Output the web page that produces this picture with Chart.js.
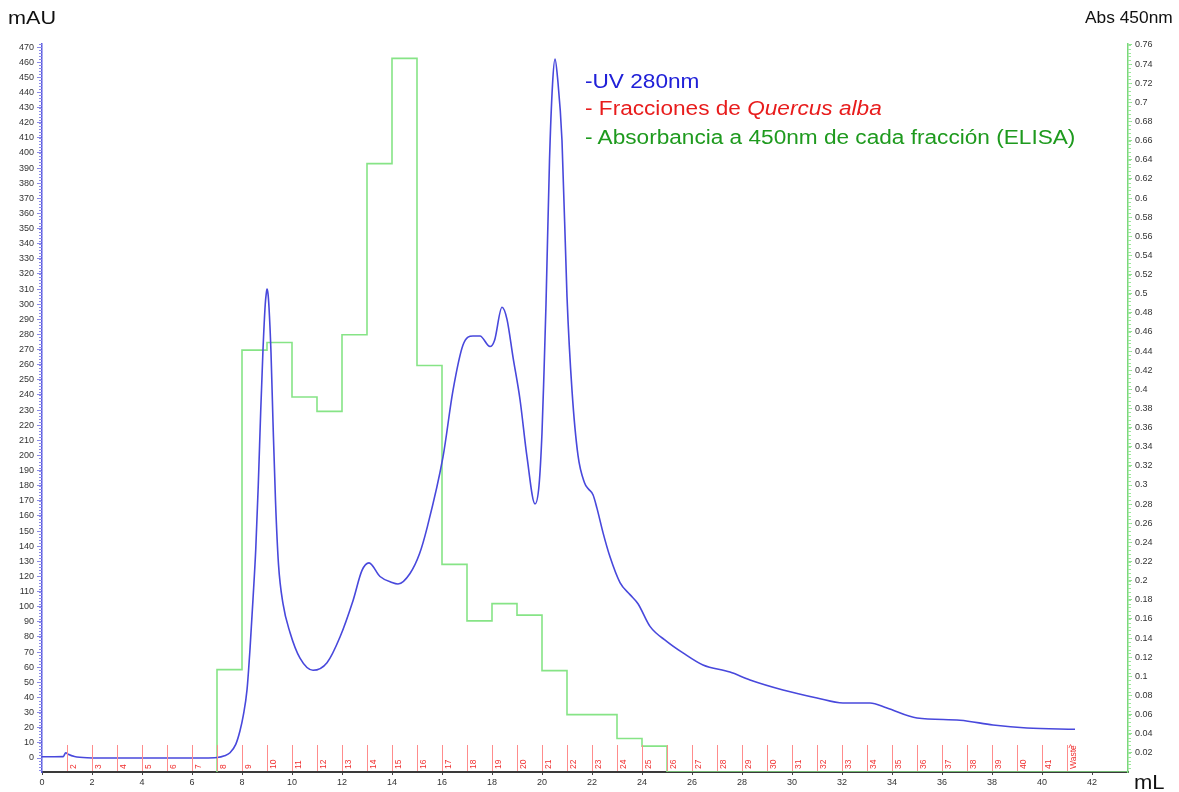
<!DOCTYPE html>
<html>
<head>
<meta charset="utf-8">
<script src="https://cdn.jsdelivr.net/npm/chart.js@4/dist/chart.umd.min.js"></script>
<style>
  html, body { margin:0; padding:0; background:#fff; }
  #wrap { position:relative; width:1179px; height:792px; overflow:hidden; font-family:"Liberation Sans", Arial, sans-serif; }
  canvas { position:absolute; left:0; top:0; }
  .t { position:absolute; white-space:nowrap; transform-origin:0 0; line-height:1; }
</style>
</head>
<body>
<div id="wrap">
  <canvas id="c" width="1179" height="792"></canvas>
  <div class="t" style="left:8px;top:9px;font-size:18px;color:#111;transform:scaleX(1.2)">mAU</div>
  <div class="t" style="left:1085px;top:9px;font-size:17px;color:#111;transform:scaleX(1.02)">Abs 450nm</div>
  <div class="t" style="left:1134px;top:772px;font-size:20px;color:#111;transform:scaleX(1.1)">mL</div>
  <div class="t" style="left:585px;top:72px;font-size:19.5px;color:#2020d8;transform:scaleX(1.16)">-UV 280nm</div>
  <div class="t" style="left:585px;top:99px;font-size:19.5px;color:#e81c1c;transform:scaleX(1.16)">- Fracciones de <i>Quercus alba</i></div>
  <div class="t" style="left:585px;top:128px;font-size:19.5px;color:#1e9a1e;transform:scaleX(1.16)">- Absorbancia a 450nm de cada fracción (ELISA)</div>
</div>
<script>
// ---- UV 280 nm trace (mL, mAU) ----
const UV_ML  = [0, 0.5, 0.85, 0.95, 1.05, 1.3, 1.8, 3, 5, 6.5, 7.0, 7.3, 7.52, 7.75, 7.92, 8.05, 8.2, 8.32, 8.44, 8.55, 8.65, 8.75, 8.84, 8.93, 8.97, 9.0, 9.04, 9.08, 9.16, 9.24, 9.34, 9.46, 9.64, 9.92, 10.32, 10.84, 11.4, 11.92, 12.44, 12.8, 13.08, 13.52, 14.0, 14.24, 14.72, 15.1, 15.4, 16.04, 16.44, 16.84, 17.24, 17.52, 17.92, 18.1, 18.4, 18.6, 18.84, 19.12, 19.4, 19.72, 19.88, 20.0, 20.08, 20.16, 20.3, 20.42, 20.52, 20.62, 20.8, 21.0, 21.2, 21.44, 21.7, 21.85, 22.04, 22.2, 22.44, 22.72, 23.12, 23.52, 23.84, 24.32, 25.0, 25.64, 26.44, 27.52, 28.32, 29.64, 31.0, 32.04, 33.12, 33.8, 35.0, 36.72, 38.04, 39.4, 41.32];
const UV_MAU = [0.8, 0.8, 0.9, 3.5, 2.5, 1, 0.2, 0, 0, 0, 0.3, 1.5, 3.5, 9, 18, 28, 45, 72, 105, 138, 180, 230, 270, 300, 307, 310, 307, 298, 268, 222, 170, 128, 102, 83, 66, 58, 63, 80, 104, 124, 129, 120, 116, 115, 122, 135, 152, 199, 243, 273, 279, 279, 272, 276, 298, 290, 265, 237, 199, 168, 180, 215, 255, 300, 395, 445, 462, 450, 408, 305, 243, 200, 182, 178, 174, 165, 149, 133, 116, 108, 102, 87, 77, 69.5, 61.5, 56.8, 51.6, 45, 39.7, 36.4, 36.4, 33, 26.4, 25, 21.8, 19.8, 19];

// ---- ELISA absorbance at 450 nm per fraction (fraction n spans n-1 .. n mL) ----
const ELISA_FRACTION = [8, 9, 10, 11, 12, 13, 14, 15, 16, 17, 18, 19, 20, 21, 22, 23, 24, 25];
const ELISA_ABS      = [0.107, 0.441, 0.449, 0.392, 0.377, 0.457, 0.636, 0.746, 0.425, 0.217, 0.158, 0.176, 0.164, 0.106, 0.060, 0.060, 0.035, 0.027];

// ---- Fraction collector marks (mL) and labels ----
const MARK_ML     = [1,2,3,4,5,6,7,8,9,10,11,12,13,14,15,16,17,18,19,20,21,22,23,24,25,26,27,28,29,30,31,32,33,34,35,36,37,38,39,40,41];
const MARK_LABELS = ['2','3','4','5','6','7','8','9','10','11','12','13','14','15','16','17','18','19','20','21','22','23','24','25','26','27','28','29','30','31','32','33','34','35','36','37','38','39','40','41','Waste'];

// ---- Tick labels ----
const X_TICKS  = [0,2,4,6,8,10,12,14,16,18,20,22,24,26,28,30,32,34,36,38,40,42];
const Y_TICKS  = [0,10,20,30,40,50,60,70,80,90,100,110,120,130,140,150,160,170,180,190,200,210,220,230,240,250,260,270,280,290,300,310,320,330,340,350,360,370,380,390,400,410,420,430,440,450,460,470];
const Y2_TICKS = [0.02,0.04,0.06,0.08,0.1,0.12,0.14,0.16,0.18,0.2,0.22,0.24,0.26,0.28,0.3,0.32,0.34,0.36,0.38,0.4,0.42,0.44,0.46,0.48,0.5,0.52,0.54,0.56,0.58,0.6,0.62,0.64,0.66,0.68,0.7,0.72,0.74,0.76];

const X_MAX = 43.44;

const uvPoints = UV_ML.map((x, i) => ({ x, y: UV_MAU[i] }));
const elisaPoints = [{ x: ELISA_FRACTION[0] - 1, y: 0 }];
ELISA_FRACTION.forEach((f, i) => elisaPoints.push({ x: f - 1, y: ELISA_ABS[i] }));
elisaPoints.push({ x: ELISA_FRACTION[ELISA_FRACTION.length - 1], y: 0 });
elisaPoints.push({ x: X_MAX, y: 0 });

const FONT = '"Liberation Sans", Arial, sans-serif';

const decor = {
  id: 'decor',
  afterDatasetsDraw(chart) {
    const ctx = chart.ctx;
    const xs = chart.scales.x, y = chart.scales.y, y2 = chart.scales.y2;
    const a = chart.chartArea;
    ctx.save();
    // minor ticks on left axis
    ctx.strokeStyle = '#8a8ae8'; ctx.lineWidth = 1;
    ctx.beginPath();
    for (let v = -8; v <= 472; v += 2) {
      const py = Math.round(y.getPixelForValue(v)) + 0.5;
      ctx.moveTo(a.left - 3, py); ctx.lineTo(a.left, py);
    }
    ctx.stroke();
    // minor ticks on right axis
    ctx.strokeStyle = '#9be89b';
    ctx.beginPath();
    for (let v = 0.004; v <= 0.761; v += 0.004) {
      const py = Math.round(y2.getPixelForValue(v)) + 0.5;
      ctx.moveTo(a.right, py); ctx.lineTo(a.right + 3, py);
    }
    ctx.stroke();
    // fraction marks
    ctx.strokeStyle = '#ff8c8c'; ctx.lineWidth = 1;
    ctx.fillStyle = '#f03030';
    ctx.font = '8.5px ' + FONT;
    MARK_ML.forEach((m, i) => {
      const px = Math.round(xs.getPixelForValue(m)) + 0.5;
      ctx.beginPath(); ctx.moveTo(px, a.bottom - 1); ctx.lineTo(px, a.bottom - 27); ctx.stroke();
      ctx.save();
      ctx.translate(px + 8, a.bottom - 3);
      ctx.rotate(-Math.PI / 2);
      ctx.textAlign = 'left'; ctx.textBaseline = 'alphabetic';
      ctx.fillText(MARK_LABELS[i], 0, 0);
      ctx.restore();
      if (MARK_LABELS[i] === 'Waste') {
        ctx.textAlign = 'center'; ctx.textBaseline = 'top';
        ctx.fillText('^', px + 3, a.bottom - 28);
      }
    });
    ctx.restore();
  }
};

new Chart(document.getElementById('c'), {
  type: 'line',
  data: {
    datasets: [
      {
        label: 'UV 280nm',
        data: uvPoints,
        yAxisID: 'y',
        borderColor: '#4848dc',
        borderWidth: 1.6,
        pointRadius: 0,
        cubicInterpolationMode: 'monotone',
        fill: false
      },
      {
        label: 'Absorbancia 450nm (ELISA)',
        data: elisaPoints,
        yAxisID: 'y2',
        borderColor: '#86e486',
        borderWidth: 1.6,
        pointRadius: 0,
        stepped: 'before',
        fill: false
      }
    ]
  },
  options: {
    responsive: false,
    devicePixelRatio: 1,
    animation: false,
    layout: { padding: { top: 44, left: 0, right: 0, bottom: 0 } },
    plugins: { legend: { display: false }, tooltip: { enabled: false }, title: { display: false } },
    scales: {
      x: {
        type: 'linear', position: 'bottom', min: 0, max: X_MAX,
        afterBuildTicks: s => { s.ticks = X_TICKS.map(v => ({ value: v })); },
        afterFit: s => { s.height = 20; },
        ticks: { font: { size: 9, family: FONT }, color: '#333', padding: 2, maxRotation: 0, autoSkip: false },
        grid: { drawOnChartArea: false, drawTicks: true, tickLength: 3, color: '#444' },
        border: { display: true, color: '#3a3a3a', width: 2 }
      },
      y: {
        type: 'linear', position: 'left', min: -9.25, max: 472,
        afterBuildTicks: s => { s.ticks = Y_TICKS.map(v => ({ value: v })); },
        afterFit: s => { s.width = 42; },
        ticks: { font: { size: 9, family: FONT }, color: '#333', padding: 3, autoSkip: false },
        grid: { drawOnChartArea: false, drawTicks: true, tickLength: 5, color: '#8a8ae8' },
        border: { display: true, color: '#5a5ae0', width: 1.5 }
      },
      y2: {
        type: 'linear', position: 'right', min: 0, max: 0.761,
        afterBuildTicks: s => { s.ticks = Y2_TICKS.map(v => ({ value: v })); },
        afterFit: s => { s.width = 51; },
        ticks: { font: { size: 9, family: FONT }, color: '#333', padding: 3, autoSkip: false,
                 callback: v => String(Number(v.toFixed(2))) },
        grid: { drawOnChartArea: false, drawTicks: true, tickLength: 4, color: '#8fe08f' },
        border: { display: true, color: '#7ad87a', width: 1.5 }
      }
    }
  },
  plugins: [decor]
});
</script>
</body>
</html>
